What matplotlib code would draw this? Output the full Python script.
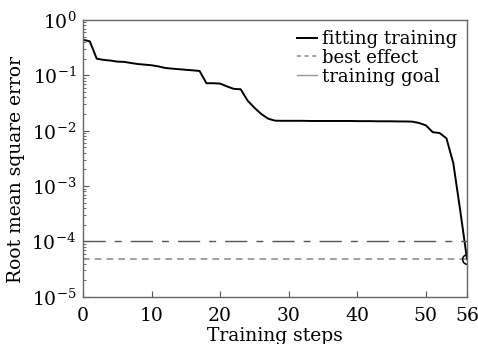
import matplotlib
matplotlib.use("Agg")
import matplotlib.pyplot as plt
from matplotlib.lines import Line2D
from matplotlib.ticker import LogLocator, NullFormatter

plt.rcParams['font.family'] = ['DejaVu Serif']
plt.rcParams['mathtext.fontset'] = 'dejavuserif'

# training curve (RMSE per step)
steps = list(range(57))
rmse = [0.44, 0.41, 0.20, 0.19, 0.185, 0.177, 0.175, 0.167, 0.160, 0.156,
        0.152, 0.145, 0.136, 0.132, 0.129, 0.126, 0.123, 0.120, 0.072, 0.072,
        0.071, 0.063, 0.057, 0.056, 0.035, 0.026, 0.020, 0.0165, 0.0152, 0.0151,
        0.0151, 0.0151, 0.0151, 0.0150, 0.0150, 0.0150, 0.0150, 0.0150, 0.0150, 0.0150,
        0.0149, 0.0149, 0.0149, 0.0148, 0.0148, 0.0148, 0.0147, 0.0147, 0.0146, 0.0138,
        0.0125, 0.0094, 0.0091, 0.0073, 0.0026, 0.00037, 4.8e-5]
best_value = 4.8e-5
goal_value = 1e-4
x_ticks = [0, 10, 20, 30, 40, 50, 56]
labels = ['fitting training', 'best effect', 'training goal']

fig = plt.figure(figsize=(4.78, 3.44), dpi=100)
ax = fig.add_axes([0.1736, 0.137, 0.8034, 0.805])

ax.plot(steps, rmse, color='black', lw=1.4)
ax.plot([steps[0], steps[-1]], [best_value, best_value], color='#888888',
        lw=1.1, dashes=(4.4, 3.3))
ax.plot([steps[0], steps[-1]], [goal_value, goal_value], color='#555555',
        lw=1.0, dashes=(16, 6.5, 5, 6.5))
ax.plot([steps[-1]], [best_value], marker='o', ms=7, mfc='none',
        mec='black', mew=1.1)

ax.set_yscale('log')
ax.set_ylim(1e-5, 1)
ax.set_xlim(0, 56)
ax.set_xticks(x_ticks)
ax.yaxis.set_major_locator(LogLocator(base=10, numticks=10))
ax.yaxis.set_minor_locator(LogLocator(base=10, subs=range(2, 10), numticks=10))
ax.yaxis.set_minor_formatter(NullFormatter())

ax.tick_params(axis='both', which='both', direction='in', labelsize=13.5,
               top=False, right=False, colors='#555555', labelcolor='black')
ax.tick_params(axis='both', which='major', length=4)
ax.tick_params(axis='y', which='minor', length=2)
ax.tick_params(axis='x', pad=7)
ax.tick_params(axis='y', pad=5)
for s in ax.spines.values():
    s.set_color('#666666')
    s.set_linewidth(1.0)

ax.set_ylabel('Root mean square error', fontsize=13.5)
ax.yaxis.set_label_coords(-0.151, 0.46)
ax.set_xlabel('Training steps', fontsize=13.5)
ax.xaxis.set_label_coords(0.5, -0.107)

handles = [Line2D([], [], color='black', lw=1.4),
           Line2D([], [], color='#888888', lw=1.1, dashes=(2.5, 2.5)),
           Line2D([], [], color='#999999', lw=1.0)]
ax.legend(handles, labels, loc='upper right', frameon=False, fontsize=13,
          handlelength=1.1, handletextpad=0.25, labelspacing=0.05,
          borderaxespad=0.45, borderpad=0.1)

fig.savefig('out.png', dpi=100)
